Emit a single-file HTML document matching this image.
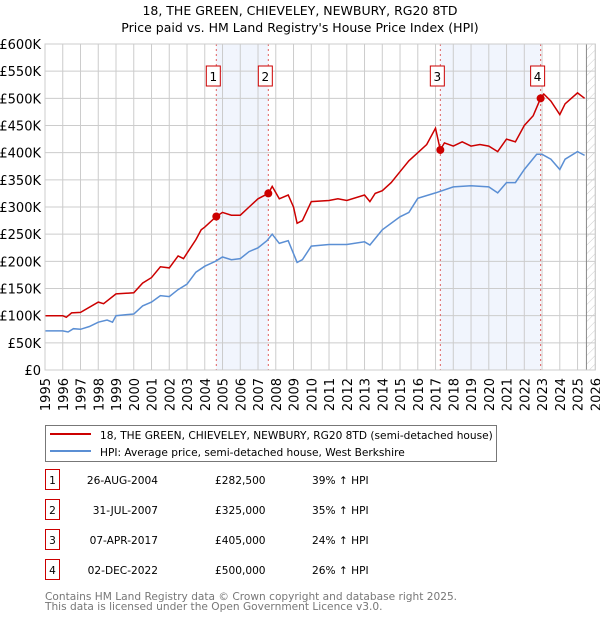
<!DOCTYPE html>
<html><head><meta charset="utf-8"><style>
body{margin:0;width:600px;height:620px;background:#fff;font-family:"DejaVu Sans","Liberation Sans",sans-serif;overflow:hidden}
svg text{font-family:"DejaVu Sans","Liberation Sans",sans-serif}
</style></head><body>
<svg id="c" width="600" height="620"></svg>
<script>
const hpiYears=[1995,1996,1996.3,1996.6,1997,1997.5,1998,1998.5,1998.8,1999,2000,2000.5,2001,2001.5,2002,2002.5,2003,2003.5,2004,2004.6,2005,2005.5,2006,2006.5,2007,2007.5,2007.8,2008.2,2008.7,2009.2,2009.5,2010,2011,2012,2013,2013.3,2014,2015,2015.5,2016,2017,2018,2019,2020,2020.5,2021,2021.5,2022,2022.7,2023,2023.5,2024,2024.3,2025,2025.4];
const hpiValues=[72,72,70,76,75,80,88,92,88,100,103,118,125,137,135,148,158,180,191,200,208,203,205,218,225,238,250,233,238,198,203,228,231,231,236,230,258,282,290,316,326,337,339,337,326,345,345,369,397,397,388,369,388,402,395];
const redYears=[1995,1996,1996.2,1996.5,1997,1998,1998.3,1999,2000,2000.5,2001,2001.5,2002,2002.5,2002.8,2003,2003.5,2003.8,2004,2004.65,2005,2005.5,2006,2006.5,2007,2007.58,2007.8,2008.2,2008.7,2009,2009.2,2009.5,2010,2011,2011.5,2012,2013,2013.3,2013.6,2014,2014.5,2015,2015.5,2016,2016.5,2017,2017.27,2017.5,2018,2018.5,2019,2019.5,2020,2020.5,2021,2021.5,2022,2022.5,2022.92,2023.1,2023.5,2024,2024.3,2025,2025.4];
const redValues=[100,100,97,105,106,125,122,140,142,160,170,190,188,210,205,215,240,258,263,282.5,290,285,285,300,315,325,338,315,322,300,270,275,310,312,315,312,322,310,325,330,345,365,385,400,415,445,405,418,412,420,412,415,412,402,425,420,450,468,500,508,495,470,490,510,500];
const saleYears=[2004.65,2007.58,2017.27,2022.92];
const saleValues=[282.5,325,405,500];
const yTicks=[0,50,100,150,200,250,300,350,400,450,500,550,600];
const xTicks=[1995,1996,1997,1998,1999,2000,2001,2002,2003,2004,2005,2006,2007,2008,2009,2010,2011,2012,2013,2014,2015,2016,2017,2018,2019,2020,2021,2022,2023,2024,2025,2026];
const X0=45,X1=595.3,Y0=370,Y1=44;
const sx=y=>X0+(y-1995)/31*(X1-X0);
const sy=v=>Y0-v/600*(Y0-Y1);
const svg=document.getElementById('c');const NS='http://www.w3.org/2000/svg';
function mk(t,a,txt){const e=document.createElementNS(NS,t);for(const k in a)e.setAttribute(k,a[k]);if(txt!==undefined)e.textContent=txt;svg.appendChild(e);return e;}
let e;
e=mk('text',{x:300,y:15,'text-anchor':'middle','font-size':12.5,fill:'#000'},'18, THE GREEN, CHIEVELEY, NEWBURY, RG20 8TD');


e=mk('text',{x:300,y:32,'text-anchor':'middle','font-size':12.5,fill:'#000'},"Price paid vs. HM Land Registry's House Price Index (HPI)");


for(let i=0;i<saleYears.length;i+=2){e=mk('rect',{x:sx(saleYears[i]),y:Y1,width:sx(saleYears[i+1])-sx(saleYears[i]),height:Y0-Y1,fill:'#eef3fc',opacity:0.8});

}
const defs=mk('defs',{});defs.innerHTML='<pattern id="h" width="6" height="6" patternUnits="userSpaceOnUse" patternTransform="rotate(45)"><line x1="0" y1="0" x2="0" y2="6" stroke="#ccc" stroke-width="1"/></pattern>';
e=mk('rect',{x:sx(2025.5),y:Y1,width:X1-sx(2025.5),height:Y0-Y1,fill:'url(#h)'});


for(const t of yTicks){mk('line',{x1:X0,x2:X1,y1:sy(t),y2:sy(t),stroke:'#ccc','stroke-width':1});
e=mk('text',{x:X0-4,y:sy(t)+5,'text-anchor':'end','font-size':13,fill:'#000'},t==0?'£0':'£'+t+'K');

}
for(const t of xTicks){mk('line',{x1:sx(t),x2:sx(t),y1:Y1,y2:Y0,stroke:'#ccc','stroke-width':1});
e=mk('text',{transform:`translate(${sx(t)+5},${Y0+8}) rotate(-90)`,'text-anchor':'end','font-size':13,fill:'#000'},t);

}
mk('line',{x1:sx(2025.5),x2:sx(2025.5),y1:Y1,y2:Y0,stroke:'#888','stroke-width':1});
saleYears.forEach((y,i)=>{e=mk('line',{x1:sx(y),x2:sx(y),y1:Y1,y2:Y0,stroke:'#e06060','stroke-width':1,'stroke-dasharray':'2,3'});


e=mk('rect',{x:sx(y)-10,y:66,width:14,height:20,fill:'#fff',stroke:'#c00','stroke-width':1});


mk('text',{x:sx(y)-3,y:81,'text-anchor':'middle','font-size':12,fill:'#000'},i+1);});
function path(xs,vs){return xs.map((x,i)=>(i?'L':'M')+sx(x).toFixed(1)+' '+sy(vs[i]).toFixed(1)).join(' ');}
e=mk('path',{d:path(hpiYears,hpiValues),fill:'none',stroke:'#5b8fd4','stroke-width':1.5});


e=mk('path',{d:path(redYears,redValues),fill:'none',stroke:'#cc0000','stroke-width':1.5});


saleYears.forEach((y,i)=>{e=mk('circle',{cx:sx(y),cy:sy(saleValues[i]),r:4,fill:'#cc0000'});

});
mk('rect',{x:X0,y:Y1,width:X1-X0,height:Y0-Y1,fill:'none',stroke:'#ccc'});
e=mk('rect',{x:45.5,y:425.5,width:451,height:36,fill:'#fff',stroke:'#777'});


mk('line',{x1:50,x2:91,y1:434,y2:434,stroke:'#cc0000','stroke-width':2});
e=mk('text',{x:100,y:439,'font-size':10.6,fill:'#000'},'18, THE GREEN, CHIEVELEY, NEWBURY, RG20 8TD (semi-detached house)');


mk('line',{x1:50,x2:91,y1:451,y2:451,stroke:'#5b8fd4','stroke-width':2});
e=mk('text',{x:100,y:456,'font-size':10.6,fill:'#000'},'HPI: Average price, semi-detached house, West Berkshire');


const rows=[['26-AUG-2004','£282,500','39% ↑ HPI'],['31-JUL-2007','£325,000','35% ↑ HPI'],['07-APR-2017','£405,000','24% ↑ HPI'],['02-DEC-2022','£500,000','26% ↑ HPI']];
rows.forEach((r,i)=>{const y=483+i*30;
e=mk('rect',{x:45.5,y:y-13.5,width:14,height:20,fill:'#fff',stroke:'#c00'});


mk('text',{x:52.5,y:y+1,'text-anchor':'middle','font-size':10.6},i+1);
mk('text',{x:158,y:y+1,'text-anchor':'end','font-size':10.6},r[0]);
mk('text',{x:215,y:y+1,'font-size':10.6},r[1]);
mk('text',{x:312,y:y+1,'font-size':10.6},r[2]);});
e=mk('text',{x:45,y:600,'font-size':10.6,fill:'#777'},'Contains HM Land Registry data © Crown copyright and database right 2025.');


e=mk('text',{x:45,y:610,'font-size':10.6,fill:'#777'},'This data is licensed under the Open Government Licence v3.0.');


</script>
</body></html>
